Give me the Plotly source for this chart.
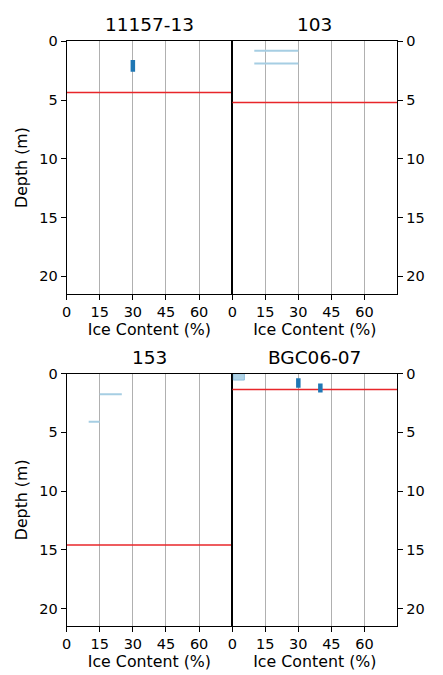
import plotly.graph_objects as go

# ---- data ----
titles = ["11157-13", "103", "153", "BGC06-07"]
x_ticks = [0, 15, 30, 45, 60]
y_ticks = [0, 5, 10, 15, 20]

# red line depths per panel
red_depth = [4.35, 5.2, 14.6, 1.35]

# dark blue vertical markers: panel, ice %, top depth, bottom depth
bar_panel = [0, 3, 3]
bar_x = [30, 30, 40]
bar_top = [1.6, 0.4, 0.85]
bar_bot = [2.6, 1.2, 1.6]

# light blue horizontal ranges: panel, x0, x1, depth
rng_panel = [1, 1, 2, 2]
rng_x0 = [10, 10, 15, 10]
rng_x1 = [30, 30, 25, 15]
rng_depth = [0.8, 1.9, 1.75, 4.1]

# light blue filled block: panel, x0, x1, top, bottom
blk_panel = [3]
blk_x0 = [0.5]
blk_x1 = [5.5]
blk_top = [0.0]
blk_bot = [0.55]

W, H = 443, 675
xdom = [[64.5 / W, 238 / W], [238 / W, 411 / W]]
ydom = [[1 - 289.3 / H, 1 - 33.7 / H], [1 - 625.5 / H, 1 - 370 / H]]
XR = [0, 75]
YR = [21.5, 0]

fig = go.Figure()
tick_font = dict(family="DejaVu Sans", size=14.5, color="black")
lab_font = dict(family="DejaVu Sans", size=15.8, color="black")

def ax_names(i):
    n = "" if i == 0 else str(i + 1)
    return "x" + n, "y" + n, "xaxis" + n, "yaxis" + n

for i in range(4):
    row, col = divmod(i, 2)
    xr, yr, xa, ya = ax_names(i)
    fig.layout[xa] = dict(
        domain=xdom[col], range=XR, anchor=yr, tickvals=x_ticks,
        ticks="outside", ticklen=5, tickcolor="black", showline=True,
        linecolor="black", linewidth=1, mirror=True, showgrid=True,
        gridcolor="#b0b0b0", gridwidth=1, zeroline=False,
        title=dict(text="Ice Content (%)", font=lab_font, standoff=3),
        tickfont=tick_font,
    )
    fig.layout[ya] = dict(
        domain=ydom[row], range=YR, anchor=xr, tickvals=y_ticks,
        ticks="outside", ticklen=5, tickcolor="black", showline=True,
        linecolor="black", linewidth=1, mirror=True, showgrid=False,
        zeroline=False, side="left" if col == 0 else "right",
        tickfont=tick_font,
        title=dict(text="Depth (m)" if col == 0 else "", font=lab_font, standoff=7),
    )
    fig.add_annotation(
        text=titles[i], xref="paper", yref="paper",
        x=(xdom[col][0] + xdom[col][1]) / 2, y=ydom[row][1],
        yanchor="bottom", xanchor="center", yshift=4, showarrow=False,
        font=dict(family="DejaVu Sans", size=18.5, color="black"),
    )
    fig.add_trace(go.Scatter(
        x=XR, y=[red_depth[i], red_depth[i]], mode="lines",
        line=dict(color="#e8262a", width=1.5), xaxis=xr, yaxis=yr,
        showlegend=False, hoverinfo="skip"))

for p, a, b, t, bt in zip(blk_panel, blk_x0, blk_x1, blk_top, blk_bot):
    xr, yr, _, _ = ax_names(p)
    fig.add_trace(go.Scatter(
        x=[a, b, b, a, a], y=[t, t, bt, bt, t], mode="lines", fill="toself",
        fillcolor="rgba(166,206,227,0.9)", line=dict(color="#8fbfdc", width=1),
        xaxis=xr, yaxis=yr, showlegend=False, hoverinfo="skip"))

for p, a, b, d in zip(rng_panel, rng_x0, rng_x1, rng_depth):
    xr, yr, _, _ = ax_names(p)
    fig.add_trace(go.Scatter(
        x=[a, b], y=[d, d], mode="lines", line=dict(color="#a6cee3", width=2),
        xaxis=xr, yaxis=yr, showlegend=False, hoverinfo="skip"))

for p, xv, t, bt in zip(bar_panel, bar_x, bar_top, bar_bot):
    xr, yr, _, _ = ax_names(p)
    fig.add_trace(go.Scatter(
        x=[xv, xv], y=[t, bt], mode="lines", line=dict(color="#1f77b4", width=4.5),
        xaxis=xr, yaxis=yr, showlegend=False, hoverinfo="skip"))

fig.update_layout(
    width=W, height=H, margin=dict(l=0, r=0, t=0, b=0),
    plot_bgcolor="white", paper_bgcolor="white", font=tick_font,
)
fig.write_html("out.html")
